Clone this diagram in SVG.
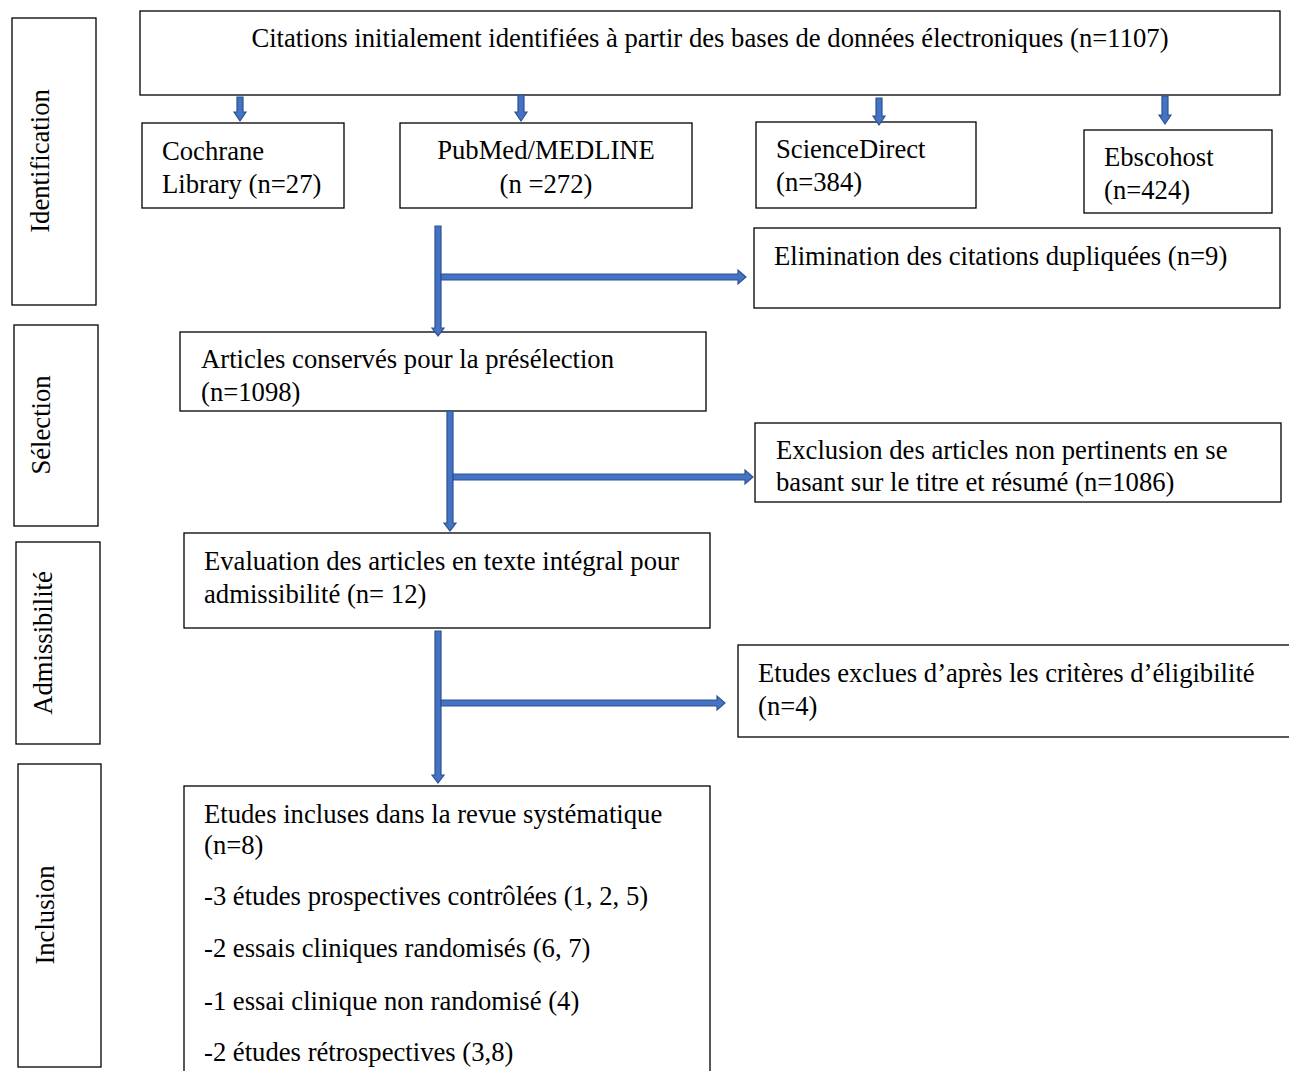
<svg xmlns="http://www.w3.org/2000/svg" width="1289" height="1071" viewBox="0 0 1289 1071">
<style>
.box{fill:#fff;stroke:#000;stroke-width:1.3}
.t{font-family:"Liberation Serif","Times New Roman",serif;font-size:26.67px;fill:#000}
.arr{fill:#4472C4;stroke:#2F528F;stroke-width:1.2}
</style>
<rect width="1289" height="1071" fill="#fff"/>
<g id="phase-identification"><rect class="box" x="12" y="18" width="84" height="287"/><text class="t" transform="translate(49,161) rotate(-90)" text-anchor="middle">Identification</text></g>
<g id="phase-selection"><rect class="box" x="14" y="325" width="84" height="201"/><text class="t" transform="translate(50,425) rotate(-90)" text-anchor="middle">Sélection</text></g>
<g id="phase-admissibilite"><rect class="box" x="16" y="542" width="84" height="202"/><text class="t" transform="translate(52,643) rotate(-90)" text-anchor="middle">Admissibilité</text></g>
<g id="phase-inclusion"><rect class="box" x="18" y="764" width="83" height="303"/><text class="t" transform="translate(54,915) rotate(-90)" text-anchor="middle">Inclusion</text></g>

<g id="citations"><rect class="box" x="140" y="11" width="1140" height="84"/><text class="t" x="710" y="47" text-anchor="middle">Citations initialement identifiées à partir des bases de données électroniques (n=1107)</text></g>
<g id="cochrane"><rect class="box" x="142" y="123" width="202" height="85"/><text class="t" x="162" y="160">Cochrane</text><text class="t" x="162" y="193">Library (n=27)</text></g>
<g id="pubmed"><rect class="box" x="400" y="123" width="292" height="85"/><text class="t" x="546" y="159" text-anchor="middle">PubMed/MEDLINE</text><text class="t" x="546" y="193" text-anchor="middle">(n =272)</text></g>
<g id="sciencedirect"><rect class="box" x="756" y="122" width="220" height="86"/><text class="t" x="776" y="158">ScienceDirect</text><text class="t" x="776" y="191">(n=384)</text></g>
<g id="ebscohost"><rect class="box" x="1084" y="130" width="188" height="83"/><text class="t" x="1104" y="166">Ebscohost</text><text class="t" x="1104" y="199">(n=424)</text></g>
<g id="elimination"><rect class="box" x="754" y="228" width="526" height="80"/><text class="t" x="774" y="265">Elimination des citations dupliquées (n=9)</text></g>
<g id="conserves"><rect class="box" x="180" y="332" width="526" height="79"/><text class="t" x="201" y="368">Articles conservés pour la présélection</text><text class="t" x="201" y="401">(n=1098)</text></g>
<g id="exclusion"><rect class="box" x="755" y="423" width="526" height="79"/><text class="t" x="776" y="459">Exclusion des articles non pertinents en se</text><text class="t" x="776" y="491">basant sur le titre et résumé (n=1086)</text></g>
<g id="evaluation"><rect class="box" x="184" y="533" width="526" height="95"/><text class="t" x="204" y="570">Evaluation des articles en texte intégral pour</text><text class="t" x="204" y="603">admissibilité (n= 12)</text></g>
<g id="exclues"><rect class="box" x="738" y="645" width="560" height="92"/><text class="t" x="758" y="682">Etudes exclues d’après les critères d’éligibilité</text><text class="t" x="758" y="715">(n=4)</text></g>
<g id="incluses"><rect class="box" x="184" y="786" width="526" height="300"/><text class="t" x="204" y="823">Etudes incluses dans la revue systématique</text><text class="t" x="204" y="854">(n=8)</text><text class="t" x="204" y="905">-3 études prospectives contrôlées (1, 2, 5)</text><text class="t" x="204" y="957">-2 essais cliniques randomisés (6, 7)</text><text class="t" x="204" y="1010">-1 essai clinique non randomisé (4)</text><text class="t" x="204" y="1061">-2 études rétrospectives (3,8)</text></g>

<g id="connectors">
<polygon class="arr" points="237,97 243,97 243,112 246,112 240,121 234,112 237,112"/>
<polygon class="arr" points="518,95 524,95 524,112 527,112 521,121 515,112 518,112"/>
<polygon class="arr" points="876,98 882,98 882,116 885,116 879,125 873,116 876,116"/>
<polygon class="arr" points="1162,96 1168,96 1168,115 1171,115 1165,124 1159,115 1162,115"/>
<polygon class="arr" points="435,226 441,226 441,328 444,328 438,336 432,328 435,328"/>
<polygon class="arr" points="441,274 738,274 738,270 746,277 738,284 738,280 441,280"/>
<polygon class="arr" points="447,411 453,411 453,523 456,523 450,531 444,523 447,523"/>
<polygon class="arr" points="453,474 745,474 745,470 753,477 745,484 745,480 453,480"/>
<polygon class="arr" points="435,631 441,631 441,775 444,775 438,783 432,775 435,775"/>
<polygon class="arr" points="441,700 717,700 717,696 725,703 717,710 717,706 441,706"/>
</g>
</svg>
